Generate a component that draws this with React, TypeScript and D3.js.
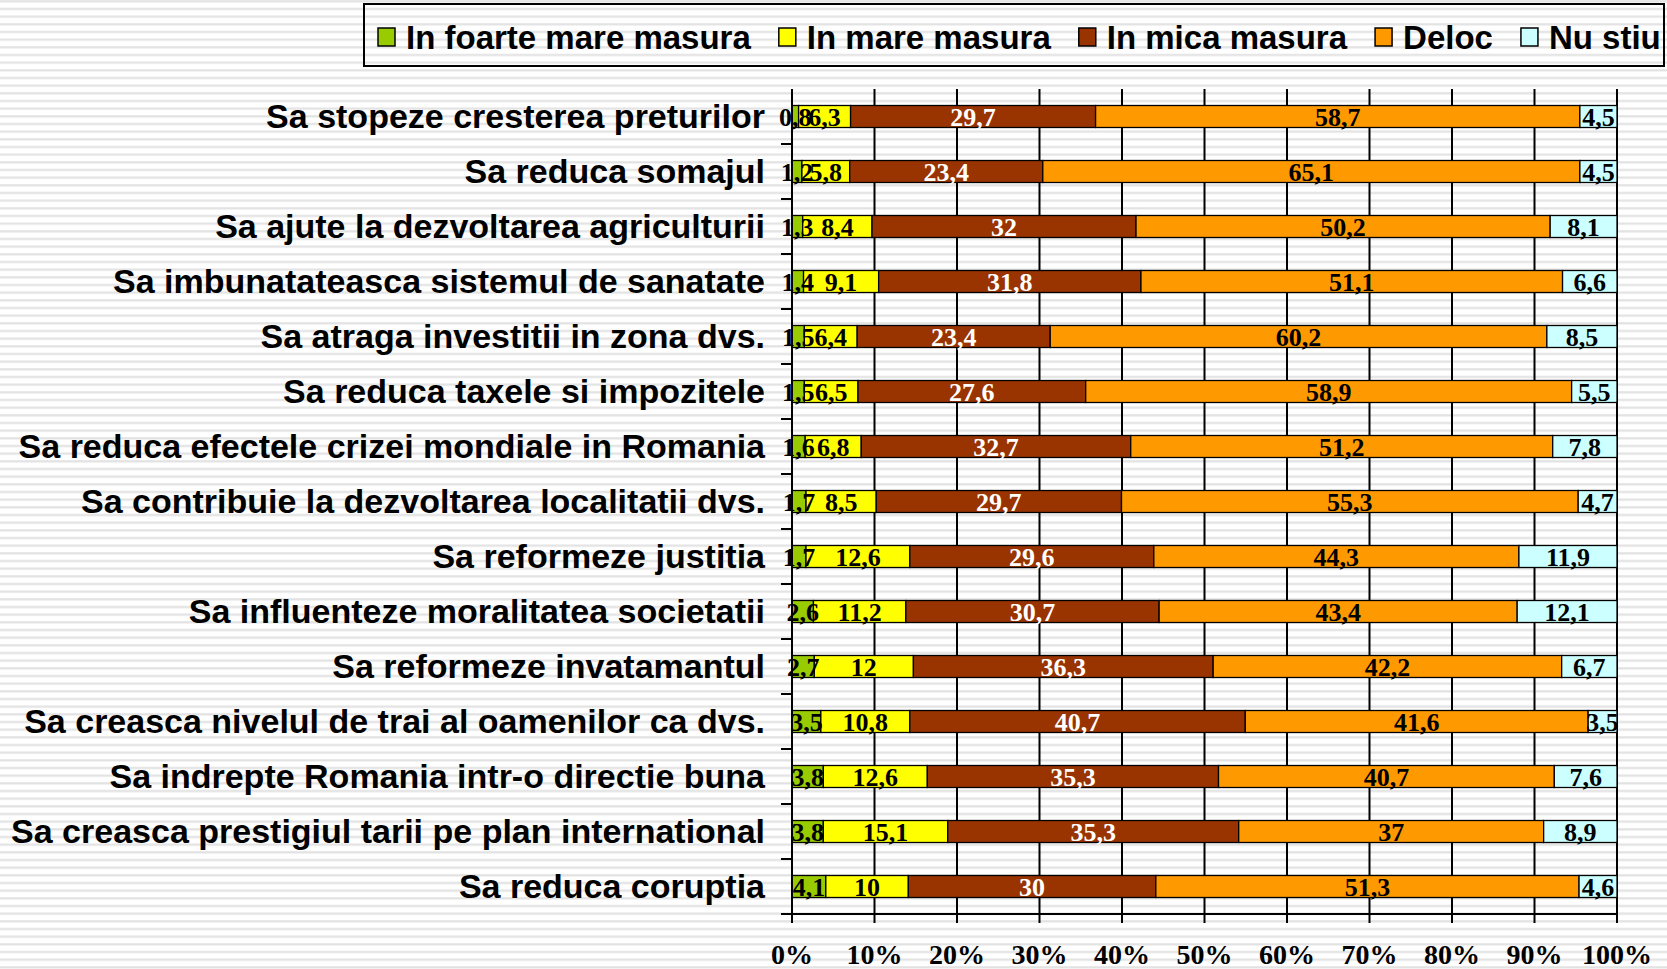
import React, { useEffect, useRef } from "react";
import * as d3 from "d3";

const categories = [
  "Sa stopeze cresterea preturilor",
  "Sa reduca somajul",
  "Sa ajute la dezvoltarea agriculturii",
  "Sa imbunatateasca sistemul de sanatate",
  "Sa atraga investitii in zona dvs.",
  "Sa reduca taxele si impozitele",
  "Sa reduca efectele crizei mondiale in Romania",
  "Sa contribuie la dezvoltarea localitatii dvs.",
  "Sa reformeze justitia",
  "Sa influenteze moralitatea societatii",
  "Sa reformeze invatamantul",
  "Sa creasca nivelul de trai al oamenilor ca dvs.",
  "Sa indrepte Romania intr-o directie buna",
  "Sa creasca prestigiul tarii pe plan international",
  "Sa reduca coruptia",
];
const foarteMare = [0.8, 1.2, 1.3, 1.4, 1.5, 1.5, 1.6, 1.7, 1.7, 2.6, 2.7, 3.5, 3.8, 3.8, 4.1];
const mare = [6.3, 5.8, 8.4, 9.1, 6.4, 6.5, 6.8, 8.5, 12.6, 11.2, 12, 10.8, 12.6, 15.1, 10];
const mica = [29.7, 23.4, 32, 31.8, 23.4, 27.6, 32.7, 29.7, 29.6, 30.7, 36.3, 40.7, 35.3, 35.3, 30];
const deloc = [58.7, 65.1, 50.2, 51.1, 60.2, 58.9, 51.2, 55.3, 44.3, 43.4, 42.2, 41.6, 40.7, 37, 51.3];
const nuStiu = [4.5, 4.5, 8.1, 6.6, 8.5, 5.5, 7.8, 4.7, 11.9, 12.1, 6.7, 3.5, 7.6, 8.9, 4.6];

const seriesNames = ["In foarte mare masura", "In mare masura", "In mica masura", "Deloc", "Nu stiu"];
const seriesColors = ["#99cc00", "#ffff00", "#993300", "#ff9900", "#ccffff"];
const labelColors = ["#000", "#000", "#fff", "#000", "#000"];
const tickValues = [0, 0.1, 0.2, 0.3, 0.4, 0.5, 0.6, 0.7, 0.8, 0.9, 1];
const tickLabels = ["0%", "10%", "20%", "30%", "40%", "50%", "60%", "70%", "80%", "90%", "100%"];

const W = 1667;
const H = 969;
const sans = "'Liberation Sans', Arial, sans-serif";
const serif = "'Liberation Serif', 'Times New Roman', serif";

const App = () => {
  const ref = useRef<SVGSVGElement>(null);

  useEffect(() => {
    const svg = d3.select(ref.current);
    svg.selectAll("*").remove();

    const margin = { top: 89, right: 50, bottom: 55, left: 792 };

    // striped background
    const pat = svg.append("defs").append("pattern")
      .attr("id", "stripes")
      .attr("patternUnits", "userSpaceOnUse")
      .attr("width", 10)
      .attr("height", 7.667);
    pat.append("rect").attr("width", 10).attr("height", 7.667).attr("fill", "#fff");
    pat.append("rect").attr("y", 0.2).attr("width", 10).attr("height", 2.2).attr("fill", "#e2e2e2");
    svg.append("rect").attr("width", W).attr("height", H).attr("fill", "url(#stripes)");

    const keys = ["a", "b", "c", "d", "e"];
    const cols = [foarteMare, mare, mica, deloc, nuStiu];
    const rows = categories.map((cat, i) => {
      const r: any = { cat };
      keys.forEach((k, j) => (r[k] = cols[j][i]));
      return r;
    });
    const stacked = d3.stack<any>().keys(keys).offset(d3.stackOffsetExpand)(rows);

    const x = d3.scaleLinear().domain([0, 1]).range([margin.left, W - margin.right]);
    const y = d3.scaleBand<string>().domain(categories)
      .range([margin.top, H - margin.bottom])
      .paddingInner(0.6).paddingOuter(0.3);
    const y0 = margin.top;
    const y1 = H - margin.bottom;

    // vertical gridlines
    svg.append("g").selectAll("line").data(tickValues.slice(1)).join("line")
      .attr("x1", d => x(d)).attr("x2", d => x(d))
      .attr("y1", y0).attr("y2", y1)
      .attr("stroke", "#000").attr("stroke-width", 2);

    // bars
    stacked.forEach((s, j) => {
      svg.append("g").selectAll("rect").data(s).join("rect")
        .attr("x", d => x(d[0]))
        .attr("y", d => y(d.data.cat)!)
        .attr("width", d => x(d[1]) - x(d[0]))
        .attr("height", y.bandwidth())
        .attr("fill", seriesColors[j])
        .attr("stroke", "#000")
        .attr("stroke-width", 1.3);
    });

    // data labels
    stacked.forEach((s, j) => {
      svg.append("g").selectAll("text").data(s).join("text")
        .attr("x", d => (x(d[0]) + x(d[1])) / 2)
        .attr("y", d => y(d.data.cat)! + y.bandwidth() / 2)
        .attr("dy", "0.35em")
        .attr("text-anchor", "middle")
        .attr("font-family", serif)
        .attr("font-weight", "bold")
        .attr("font-size", 26)
        .attr("fill", labelColors[j])
        .text(d => String(d.data[keys[j]]).replace(".", ","));
    });

    // y axis
    svg.append("line")
      .attr("x1", x(0)).attr("x2", x(0)).attr("y1", y0).attr("y2", y1)
      .attr("stroke", "#000").attr("stroke-width", 2);
    const step = y.step();
    svg.append("g").selectAll("line").data(d3.range(1, categories.length)).join("line")
      .attr("x1", x(0) - 11).attr("x2", x(0))
      .attr("y1", d => y0 + d * step).attr("y2", d => y0 + d * step)
      .attr("stroke", "#000").attr("stroke-width", 2);

    svg.append("g").selectAll("text").data(categories).join("text")
      .attr("x", 765)
      .attr("y", d => y(d)! + y.bandwidth() / 2)
      .attr("dy", "0.35em")
      .attr("text-anchor", "end")
      .attr("font-family", sans)
      .attr("font-weight", "bold")
      .attr("font-size", 34)
      .attr("fill", "#000")
      .text(d => d);

    // x axis
    svg.append("line")
      .attr("x1", x(0) - 11).attr("x2", x(1)).attr("y1", y1).attr("y2", y1)
      .attr("stroke", "#000").attr("stroke-width", 2);
    svg.append("g").selectAll("line").data(tickValues).join("line")
      .attr("x1", d => x(d)).attr("x2", d => x(d))
      .attr("y1", y1).attr("y2", y1 + 9)
      .attr("stroke", "#000").attr("stroke-width", 2);
    svg.append("g").selectAll("text").data(tickValues).join("text")
      .attr("x", d => x(d))
      .attr("y", 964)
      .attr("text-anchor", "middle")
      .attr("font-family", serif)
      .attr("font-weight", "bold")
      .attr("font-size", 28)
      .attr("fill", "#000")
      .text((d, i) => tickLabels[i]);

    // legend
    svg.append("rect")
      .attr("x", 364).attr("y", 4).attr("width", 1300).attr("height", 62)
      .attr("fill", "none").attr("stroke", "#000").attr("stroke-width", 2);
    let lx = 378;
    seriesNames.forEach((name, j) => {
      svg.append("rect")
        .attr("x", lx).attr("y", 28).attr("width", 17).attr("height", 18)
        .attr("fill", seriesColors[j]).attr("stroke", "#000").attr("stroke-width", 1.5);
      const t = svg.append("text")
        .attr("x", lx + 28).attr("y", 37)
        .attr("dy", "0.35em")
        .attr("font-family", sans)
        .attr("font-weight", "bold")
        .attr("font-size", 33)
        .attr("fill", "#000")
        .text(name);
      const w = (t.node() as SVGTextElement).getComputedTextLength();
      lx = lx + 28 + w + 28;
    });
  }, []);

  return (
    <svg ref={ref} width={W} height={H}
      style={{ position: "absolute", left: 0, top: 0, display: "block" }} />
  );
};

export default App;
